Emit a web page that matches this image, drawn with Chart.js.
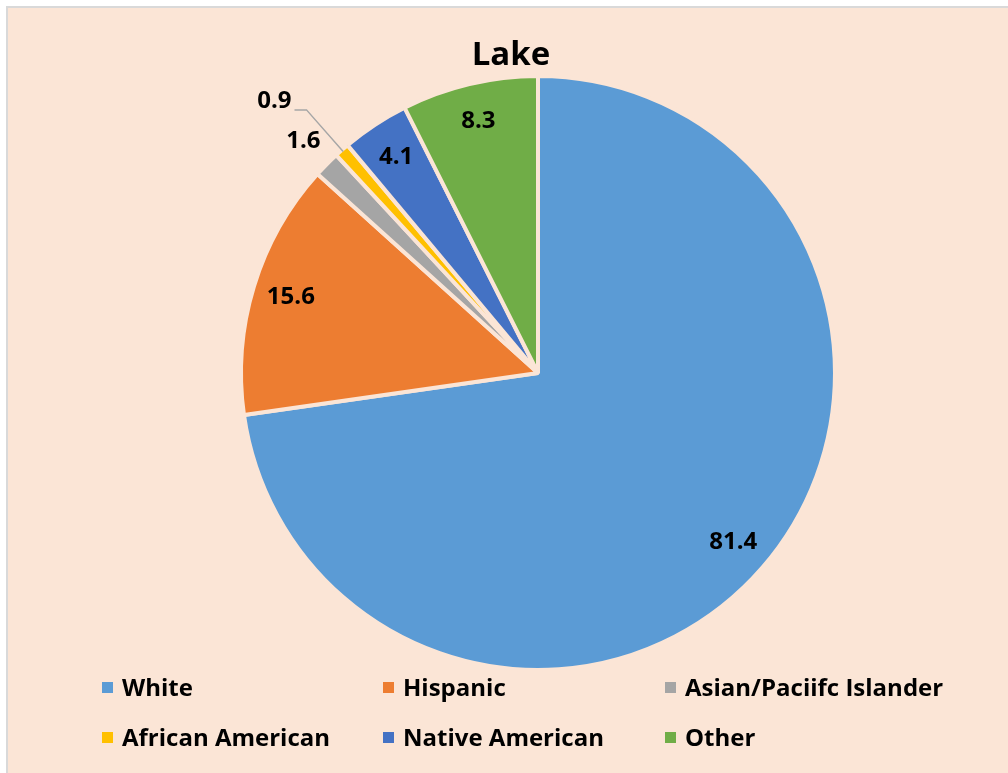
<!DOCTYPE html>
<html>
<head>
<meta charset="utf-8">
<script src="https://cdn.jsdelivr.net/npm/chart.js@4/dist/chart.umd.min.js"></script>
<style>
  html, body { margin: 0; padding: 0; background: #ffffff; }
  body { width: 1008px; height: 773px; position: relative; overflow: hidden; font-family: "Open Sans", Lato, sans-serif; }
  #frame {
    position: absolute; left: 6px; top: 6px; width: 1020px; height: 790px;
    background: #FBE5D6; border-left: 2px solid #D9D9D9; border-top: 2px solid #D9D9D9;
  }
  #pie { position: absolute; left: 0; top: 0; }
  #title {
    position: absolute; left: 0; top: 33px; width: 1022px; text-align: center;
    font-weight: bold; font-size: 33px; line-height: 40px; color: #000;
  }
  #legend {
    position: absolute; left: 102px; top: 673px;
    display: grid; grid-template-columns: 281px 282px 320px; row-gap: 22px;
  }
  .item { display: flex; align-items: center; font-weight: bold; font-size: 24px; line-height: 28px; color: #000; white-space: nowrap; }
  .box { width: 11px; height: 11px; margin-right: 9px; }
</style>
</head>
<body>
<div id="frame"></div>
<canvas id="pie" width="1008" height="773"></canvas>
<div id="title">Lake</div>
<div id="legend"></div>
<script>
const title = 'Lake';
const categories = ['White', 'Hispanic', 'Asian/Paciifc Islander', 'African American', 'Native American', 'Other'];
const values = [81.4, 15.6, 1.6, 0.9, 4.1, 8.3];
const colors = ['#5B9BD5', '#ED7D31', '#A5A5A5', '#FFC000', '#4472C4', '#70AD47'];
const bgColor = '#FBE5D6';

document.getElementById('title').textContent = title;

// legend as a 3-column grid, like the original
const legendEl = document.getElementById('legend');
categories.forEach((name, i) => {
  const item = document.createElement('div');
  item.className = 'item';
  const box = document.createElement('span');
  box.className = 'box';
  box.style.background = colors[i];
  item.appendChild(box);
  item.appendChild(document.createTextNode(name));
  legendEl.appendChild(item);
});

// value labels: inside for big slices, outside for small ones, callout for the tiniest
const sliceLabels = {
  id: 'sliceLabels',
  afterDatasetsDraw(chart) {
    const ctx = chart.ctx;
    const meta = chart.getDatasetMeta(0);
    const total = values.reduce((a, b) => a + b, 0);
    ctx.save();
    ctx.font = 'bold 24px "Open Sans"';
    ctx.fillStyle = '#000';
    ctx.textBaseline = 'middle';
    meta.data.forEach((arc, i) => {
      const p = arc.getProps(['x', 'y', 'startAngle', 'endAngle', 'outerRadius'], true);
      const mid = (p.startAngle + p.endAngle) / 2;
      const cx = Math.cos(mid), cy = Math.sin(mid);
      const r = p.outerRadius;
      const share = values[i] / total;
      const text = values[i].toFixed(1);
      if (share < 0.01) {
        const ex = p.x + cx * r * 1.18, ey = p.y + cy * r * 1.18;
        ctx.strokeStyle = '#A6A6A6';
        ctx.lineWidth = 1.5;
        ctx.beginPath();
        ctx.moveTo(p.x + cx * (r - 2), p.y + cy * (r - 2));
        ctx.lineTo(ex, ey);
        ctx.lineTo(ex - 12, ey);
        ctx.stroke();
        ctx.textAlign = 'right';
        ctx.fillText(text, ex - 15, ey - 9);
      } else if (share < 0.02) {
        ctx.textAlign = 'center';
        ctx.fillText(text, p.x + cx * r * 1.11, p.y + cy * r * 1.11);
      } else {
        ctx.textAlign = 'center';
        ctx.fillText(text, p.x + cx * r * 0.87, p.y + cy * r * 0.87);
      }
    });
    ctx.restore();
  }
};

new Chart(document.getElementById('pie').getContext('2d'), {
  type: 'pie',
  data: {
    labels: categories,
    datasets: [{
      data: values,
      backgroundColor: colors,
      borderColor: bgColor,
      borderWidth: 4
    }]
  },
  options: {
    responsive: false,
    animation: false,
    radius: 297,
    layout: { padding: { top: 40, bottom: 67, left: 68, right: 0 } },
    plugins: {
      legend: { display: false },
      title: { display: false },
      tooltip: { enabled: false }
    }
  },
  plugins: [sliceLabels]
});
</script>
</body>
</html>
